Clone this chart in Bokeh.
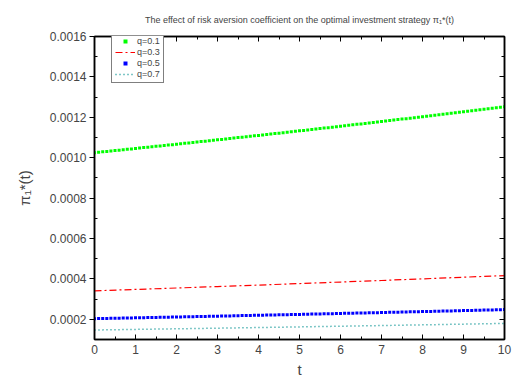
from bokeh.plotting import figure
from bokeh.models import (LinearAxis, FixedTicker, NumeralTickFormatter, Legend,
                          LegendItem, Range1d, Title)
from bokeh.embed import file_html
from bokeh.resources import INLINE

# ---- data (values in units of 1e-6) ----
t_fine = [i / 10 for i in range(101)]
t_coarse = [0, 1, 2, 3, 4, 5, 6, 7, 8, 9, 10]

q01_e6 = [1025.0, 1027.1, 1029.1, 1031.2, 1033.3, 1035.3, 1037.4, 1039.5, 1041.6, 1043.6,
          1045.7, 1047.8, 1049.9, 1052.0, 1054.1, 1056.2, 1058.4, 1060.5, 1062.6, 1064.7,
          1066.8, 1069.0, 1071.1, 1073.3, 1075.4, 1077.6, 1079.8, 1081.9, 1084.1, 1086.2,
          1088.4, 1090.6, 1092.8, 1095.0, 1097.2, 1099.4, 1101.6, 1103.8, 1106.0, 1108.2,
          1110.4, 1112.6, 1114.9, 1117.1, 1119.4, 1121.6, 1123.8, 1126.1, 1128.3, 1130.6,
          1132.8, 1135.1, 1137.4, 1139.7, 1142.0, 1144.3, 1146.5, 1148.8, 1151.1, 1153.4,
          1155.7, 1158.0, 1160.4, 1162.7, 1165.0, 1167.4, 1169.7, 1172.0, 1174.3, 1176.7,
          1179.0, 1181.4, 1183.8, 1186.2, 1188.6, 1191.0, 1193.3, 1195.7, 1198.1, 1200.5,
          1202.9, 1205.3, 1207.8, 1210.2, 1212.6, 1215.1, 1217.5, 1219.9, 1222.3, 1224.8,
          1227.2, 1229.7, 1232.1, 1234.6, 1237.1, 1239.6, 1242.0, 1244.5, 1247.0, 1249.4, 1251.9]

q03_e6 = [341.0, 347.9, 354.9, 362.1, 369.4, 376.9, 384.5, 392.2, 400.2, 408.3, 416.5]

q05_e6 = [203.0, 203.4, 203.8, 204.2, 204.6, 205.0, 205.5, 205.9, 206.3, 206.7,
          207.1, 207.5, 207.9, 208.4, 208.8, 209.2, 209.6, 210.0, 210.5, 210.9,
          211.3, 211.7, 212.2, 212.6, 213.0, 213.5, 213.9, 214.3, 214.7, 215.2,
          215.6, 216.0, 216.5, 216.9, 217.3, 217.8, 218.2, 218.6, 219.0, 219.5,
          219.9, 220.3, 220.8, 221.2, 221.7, 222.1, 222.5, 223.0, 223.4, 223.9,
          224.3, 224.8, 225.2, 225.7, 226.1, 226.6, 227.1, 227.5, 228.0, 228.4,
          228.9, 229.4, 229.8, 230.3, 230.7, 231.2, 231.7, 232.1, 232.6, 233.0,
          233.5, 234.0, 234.4, 234.9, 235.4, 235.9, 236.3, 236.8, 237.3, 237.7,
          238.2, 238.7, 239.2, 239.6, 240.1, 240.6, 241.1, 241.6, 242.0, 242.5,
          243.0, 243.5, 244.0, 244.5, 245.0, 245.5, 245.9, 246.4, 246.9, 247.4, 247.9]

q07_e6 = [147.0, 150.0, 153.0, 156.1, 159.2, 162.5, 165.7, 169.1, 172.5, 176.0, 179.5]

series_labels = ["q=0.1", "q=0.3", "q=0.5", "q=0.7"]
x_ticks = [0, 1, 2, 3, 4, 5, 6, 7, 8, 9, 10]
x_minor = [0.5, 1.5, 2.5, 3.5, 4.5, 5.5, 6.5, 7.5, 8.5, 9.5]
y_ticks = [0.0002, 0.0004, 0.0006, 0.0008, 0.0010, 0.0012, 0.0014, 0.0016]
y_minor = [0.0001, 0.0003, 0.0005, 0.0007, 0.0009, 0.0011, 0.0013, 0.0015]
title_text = "The effect of risk aversion coefficient on the optimal investment strategy \u03c0\u2081*(t)"

SCALE = 1e-6
q01 = [v * SCALE for v in q01_e6]
q03 = [v * SCALE for v in q03_e6]
q05 = [v * SCALE for v in q05_e6]
q07 = [v * SCALE for v in q07_e6]

FONT = "Liberation Sans"

p = figure(width=513, height=380, output_backend="svg", toolbar_location=None,
           x_range=Range1d(0, 10), y_range=Range1d(0.0001, 0.0016),
           min_border_left=94, min_border_right=9, min_border_top=35,
           min_border_bottom=40)
p.grid.visible = False
p.outline_line_color = "black"
p.outline_line_width = 1.5
p.background_fill_color = "white"

p.title = Title(text=title_text, text_font=FONT, text_font_size="9px",
                text_font_style="normal", align="center", standoff=24)

# bottom axis
xa = p.xaxis[0]
xa.ticker = FixedTicker(ticks=x_ticks, minor_ticks=x_minor)
xa.major_tick_in = 5
xa.major_tick_out = 0
xa.minor_tick_in = 3
xa.minor_tick_out = 0
xa.major_label_text_font = FONT
xa.major_label_text_font_size = "12px"
xa.major_label_standoff = 5
xa.axis_label = "t"
xa.axis_label_text_font = FONT
xa.axis_label_text_font_size = "15px"
xa.axis_label_text_font_style = "normal"
xa.axis_label_standoff = 4
xa.axis_line_width = 1.5

# left axis
ya = p.yaxis[0]
ya.ticker = FixedTicker(ticks=y_ticks, minor_ticks=y_minor)
ya.formatter = NumeralTickFormatter(format="0.0000")
ya.major_tick_in = 0
ya.major_tick_out = 5
ya.minor_tick_in = 3
ya.minor_tick_out = 0
ya.major_label_text_font = FONT
ya.major_label_text_font_size = "12px"
ya.major_label_standoff = 3
ya.axis_label = "\u03c0\u2081*(t)"
ya.axis_label_text_font = FONT
ya.axis_label_text_font_size = "15px"
ya.axis_label_text_font_style = "normal"
ya.axis_label_standoff = 14
ya.axis_line_width = 1.5

# top and right axes (ticks only, no labels drawn)
top = LinearAxis(ticker=FixedTicker(ticks=x_ticks, minor_ticks=x_minor),
                 major_tick_in=5, major_tick_out=0, minor_tick_in=3, minor_tick_out=0,
                 major_label_text_color=None, major_label_standoff=0,
                 axis_line_width=1.5)
right = LinearAxis(ticker=FixedTicker(ticks=y_ticks, minor_ticks=y_minor),
                   major_tick_in=5, major_tick_out=0, minor_tick_in=3, minor_tick_out=0,
                   major_label_text_color=None, major_label_standoff=0,
                   axis_line_width=1.5)
p.add_layout(top, "above")
p.add_layout(right, "right")

r1 = p.scatter(t_fine, q01, marker="square", size=3, line_color=None, fill_color="#00ff00")
r2 = p.line(t_coarse, q03, line_color="#ff0000", line_width=1.2, line_dash="7 3 2 3")
r3 = p.scatter(t_fine, q05, marker="square", size=3, line_color=None, fill_color="#0000ff")
r4 = p.line(t_coarse, q07, line_color="#009090", line_width=1.5, line_dash="1 3")

legend = Legend(items=[LegendItem(label=series_labels[0], renderers=[r1]),
                       LegendItem(label=series_labels[1], renderers=[r2]),
                       LegendItem(label=series_labels[2], renderers=[r3]),
                       LegendItem(label=series_labels[3], renderers=[r4])],
                location=(17, 256), orientation="vertical",
                border_line_color="black", border_line_width=1,
                background_fill_color="white", background_fill_alpha=1,
                label_text_font=FONT, label_text_font_size="9px",
                label_height=10, glyph_height=10, glyph_width=20,
                label_standoff=2, spacing=1, padding=3, margin=0)
p.add_layout(legend)

open("out.html", "w").write(file_html(p, INLINE))
